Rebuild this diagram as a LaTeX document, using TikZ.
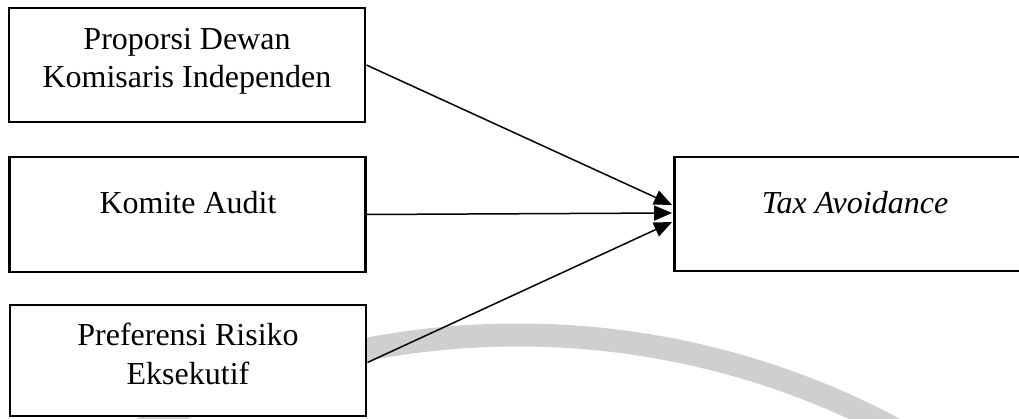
\documentclass[tikz,border=0pt]{standalone}
\usepackage{fontspec}
\setmainfont{Liberation Serif}
\usetikzlibrary{arrows.meta,calc}

\tikzset{
  varbox/.style={draw=black, line width=2.8pt, fill=white, rectangle,
    minimum width=356pt, minimum height=114pt, inner sep=0pt},
  lbl/.style={anchor=base, inner sep=0pt,
    font=\fontsize{32}{38}\selectfont},
  link/.style={line width=1.5pt,
    -{Triangle[length=18pt,width=15pt]}},
  ring/.style={line width=23pt, draw=black!19}
}

\begin{document}
\begin{tikzpicture}[x=1pt,y=-1pt]
\useasboundingbox (0,0) rectangle (1019,419);
\begin{scope}
\clip (0,0) rectangle (1019,419);

% faint seal ring in the background
\draw[ring] (518,1135) circle[radius=800];

% independent variables
\node[varbox] (p1) at (187,65) {};
\node[varbox, minimum height=115pt] (p2) at (187.5,214.5) {};
\node[varbox, minimum height=111pt] (p3) at (188,360.5) {};

% dependent variable
\node[varbox] (ta) at (852.5,214) {};

% labels
\node[lbl] (p1a) at (187,50) {Proporsi Dewan};
\node[lbl] (p1b) at (187,88) {Komisaris Independen};
\node[lbl] (p2a) at (188,214) {Komite Audit};
\node[lbl] (p3a) at (188,345) {Preferensi Risiko};
\node[lbl] (p3b) at (188,384) {Eksekutif};
\node[lbl] (taa) at (855,214) {\itshape Tax Avoidance};

% relations
\draw[link] (p1.east) -- ($(ta.west)+(-1,-9)$);
\draw[link] (p2.east) -- ($(ta.west)+(-1,-1)$);
\draw[link] ($(p3.east)+(0,2)$) -- ($(ta.west)+(-1,8)$);
\end{scope}
\end{tikzpicture}
\end{document}
